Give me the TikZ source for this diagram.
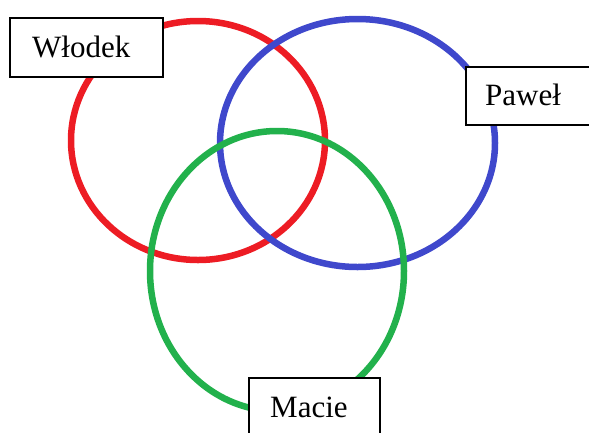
\documentclass[tikz,border=0pt]{standalone}
\usepackage{fontspec}
\setmainfont{Liberation Serif}
\definecolor{cred}{HTML}{ED1C24}
\definecolor{cblue}{HTML}{3F48CC}
\definecolor{cgreen}{HTML}{22B14C}
\begin{document}
\begin{tikzpicture}[x=1pt,y=-1pt,
  ring/.style={line width=6.5pt},
  box/.style={draw=black, line width=2pt, fill=white, rectangle, inner sep=0pt, anchor=north west},
  lbl/.style={inner sep=0pt, anchor=base west, font=\fontsize{31}{36}\selectfont}]
\useasboundingbox (0,0) rectangle (589,432);
\clip (0,0) rectangle (589,432);
\draw[ring, cred] (198,140.5) ellipse [x radius=127, y radius=119.5];
\draw[ring, cblue] (357.5,143) ellipse [x radius=137.5, y radius=124];
\draw[ring, cgreen] (277,271) ellipse [x radius=127, y radius=140];
\node[box, minimum width=153pt, minimum height=59pt] (wbox) at (9,17) {};
\node[lbl] (wl) at (32,57) {Włodek};
\node[box, minimum width=140pt, minimum height=58pt] (pbox) at (465,66) {};
\node[lbl] (pl) at (485,105) {Paweł};
\node[box, minimum width=131pt, minimum height=80pt] (mbox) at (248,377) {};
\node[lbl] (ml) at (270,417) {Macie};
\end{tikzpicture}
\end{document}
